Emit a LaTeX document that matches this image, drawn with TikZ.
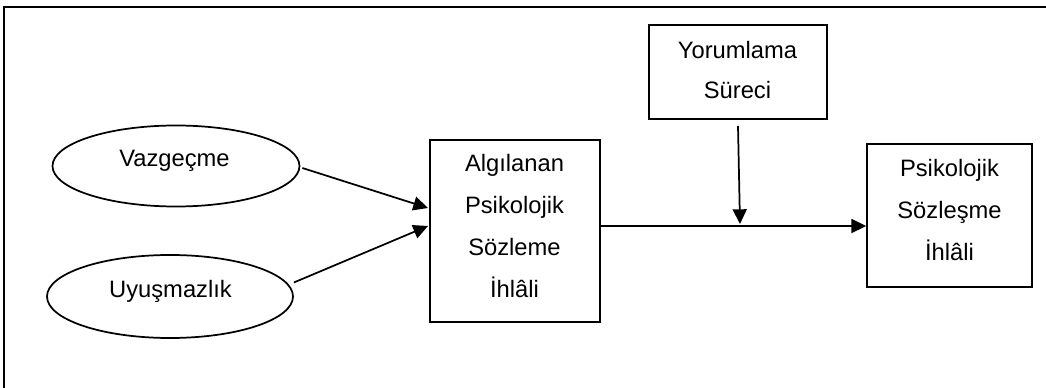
\documentclass[tikz,border=0pt]{standalone}
\usepackage{fontspec}
\setmainfont{Liberation Sans}
\usetikzlibrary{shapes.geometric,arrows.meta}
\tikzset{
  ln/.style={line width=1.3pt, draw=black},
  oval/.style={ellipse, ln, inner sep=0pt},
  box/.style={rectangle, ln, inner sep=0pt},
  txt/.style={inner sep=0pt, align=center, font=\fontsize{17.8pt}{31.5pt}\selectfont},
  txtb/.style={inner sep=0pt, align=center, font=\fontsize{17.8pt}{30pt}\selectfont},
  arr/.style={ln, -{Triangle[length=11pt,width=10.5pt]}}
}
\begin{document}
\begin{tikzpicture}[x=0.75pt,y=-0.75pt]
\useasboundingbox (0,0) rectangle (1046,388);
\draw[ln, line cap=rect] (4,388) -- (4,7) -- (1046,7);
% ellipses
\node[oval, minimum width=185.25pt, minimum height=60.75pt] (v) at (176,166) {};
\node[txt] (vt) at (174.5,161) {Vazgeçme};
\node[oval, minimum width=184.5pt, minimum height=62.25pt] (u) at (170,296.5) {};
\node[txt] (ut) at (170.5,291) {Uyuşmazlık};
% boxes
\node[box, minimum width=127.5pt, minimum height=136.5pt] (alg) at (515,231) {};
\node[txt] (algt) at (514.5,226) {Algılanan\\Psikolojik\\Sözleme\\İhlâli};
\node[box, minimum width=133.5pt, minimum height=70.5pt] (yor) at (738,72) {};
\node[txtb] (yort) at (737.5,70) {Yorumlama\\Süreci};
\node[box, minimum width=123.75pt, minimum height=107.25pt] (psy) at (949.5,215.5) {};
\node[txt] (psyt) at (949.5,210) {Psikolojik\\Sözleşme\\İhlâli};
% connectors
\coordinate (a1) at (428,208);
\coordinate (a2) at (428,226);
\coordinate (m) at (740,226);
\draw[arr] ([xshift=1.5pt,yshift=-1.5pt]v.east) -- (a1);
\draw[arr] ([yshift=10.5pt]u.east) -- (a2);
\draw[arr] (alg.east |- m) -- (psy.west |- m);
\draw[arr] ([yshift=-4.5pt]yor.south) -- ([yshift=1.5pt]m);
\end{tikzpicture}
\end{document}
